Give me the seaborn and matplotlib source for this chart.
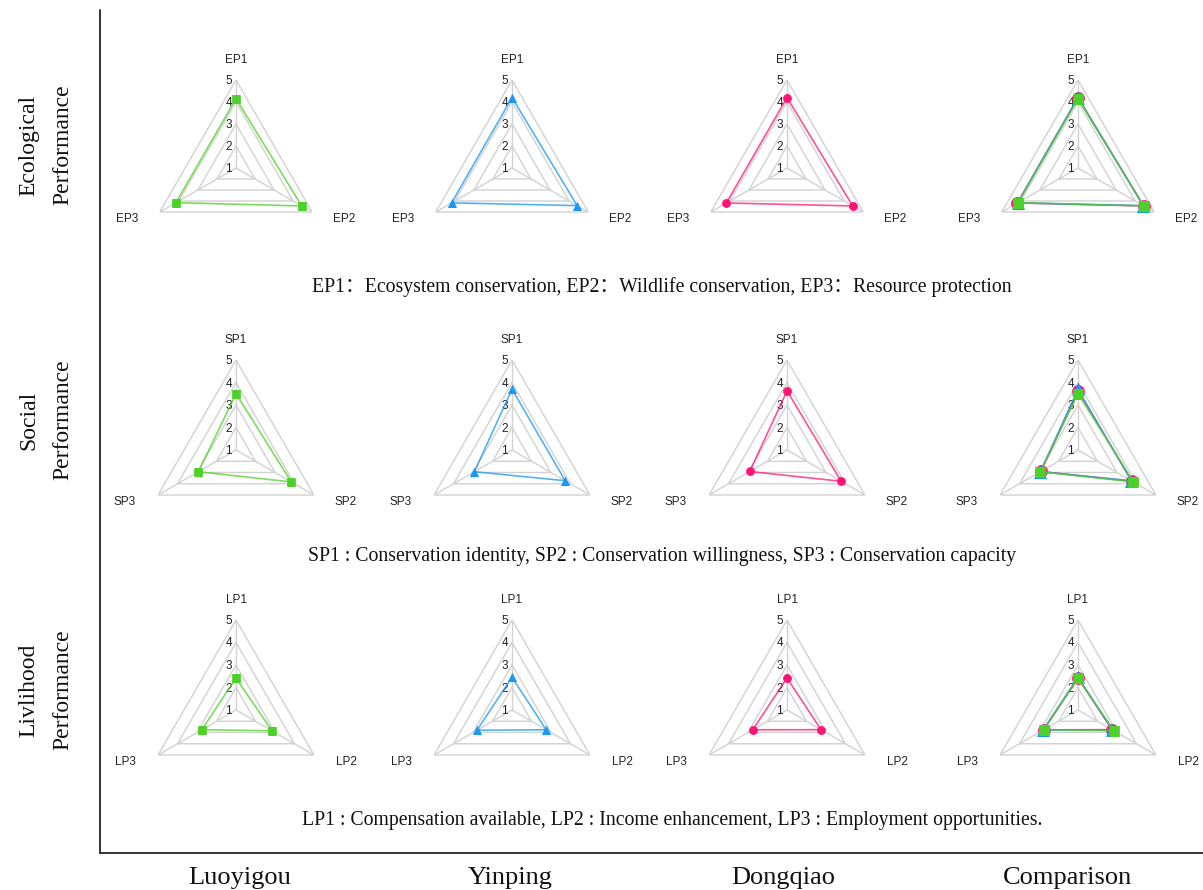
import numpy as np
import matplotlib.pyplot as plt
import seaborn as sns
from matplotlib.lines import Line2D

# --- data (scores 1-5) ---
sites = ["Luoyigou", "Yinping", "Dongqiao"]
columns = ["Luoyigou", "Yinping", "Dongqiao", "Comparison"]

eco_axes = ["EP1", "EP2", "EP3"]
soc_axes = ["SP1", "SP2", "SP3"]
liv_axes = ["LP1", "LP2", "LP3"]

eco_luo = [4.15, 4.45, 4.15]
eco_yin = [4.2, 4.42, 4.17]
eco_dong = [4.2, 4.45, 4.18]

soc_luo = [3.5, 3.84, 2.93]
soc_yin = [3.7, 3.73, 2.93]
soc_dong = [3.63, 3.78, 2.91]

liv_luo = [2.42, 2.85, 2.75]
liv_yin = [2.45, 2.76, 2.8]
liv_dong = [2.42, 2.75, 2.76]

row_titles = ["Ecological\nPerformance", "Social\nPerformance", "Livlihood\nPerformance"]
captions = [
    "EP1：Ecosystem conservation, EP2：Wildlife conservation, EP3：Resource protection",
    "SP1 : Conservation identity, SP2 : Conservation willingness, SP3 : Conservation capacity",
    "LP1 : Compensation available, LP2 : Income enhancement, LP3 : Employment opportunities.",
]
ticks = [1, 2, 3, 4, 5]

rows = [
    (eco_axes, [eco_luo, eco_yin, eco_dong]),
    (soc_axes, [soc_luo, soc_yin, soc_dong]),
    (liv_axes, [liv_luo, liv_yin, liv_dong]),
]

colors = ["#4dd02a", "#1a98f2", "#ff1475"]
markers = ["s", "^", "o"]

sns.set_theme(style="white")
plt.rcParams["font.family"] = ["Liberation Sans", "DejaVu Sans"]
serif = ["Liberation Serif", "Noto Sans CJK SC"]

W, H = 1203, 890
fig = plt.figure(figsize=(W / 100, H / 100), dpi=100)

# layout in pixels
col_x = [236, 512, 787, 1078]
row_y = [168, 450, 710]
row_r = [88, 90, 90]
caption_x = [662, 662, 672]
caption_y = [287, 557, 820]
title_y = [145, 420, 690]
name_x = [240, 510, 783, 1068]


def radar(ax, labels, series):
    theta = np.linspace(0, 2 * np.pi, len(labels), endpoint=False)
    loop = np.append(theta, theta[0])
    ax.set_theta_zero_location("N")
    ax.set_theta_direction(-1)
    ax.set_ylim(1, 5)
    ax.grid(False)
    ax.spines["polar"].set_visible(False)
    ax.set_xticks([])
    ax.set_yticks([])
    ax.set_facecolor("none")
    # triangle rings and spokes
    for t in ticks[1:]:
        ax.plot(loop, [t] * len(loop), color="#d2d2d2", lw=1.0, zorder=1)
    for th in theta:
        ax.plot([th, th], [1, 5], color="#d2d2d2", lw=1.0, zorder=1)
    for t in ticks:
        ax.annotate(str(t), xy=(0, t), xytext=(-4, -1), textcoords="offset pixels",
                    ha="right", va="center", fontsize=8.5, color="#222222",
                    annotation_clip=False)
    offsets = [(0, 20), (32, -7), (-33, -7)]
    for th, lab, off in zip(theta, labels, offsets):
        ax.annotate(lab, xy=(th, 5), xytext=off, textcoords="offset pixels",
                    ha="center", va="center", fontsize=8.5, color="#222222",
                    annotation_clip=False)
    for vals, c, m, ms, z in series:
        sns.lineplot(x=loop, y=np.append(vals, vals[0]), sort=False, ax=ax,
                     color=c, lw=1.2, alpha=0.75, zorder=z, estimator=None)
        sns.scatterplot(x=theta, y=vals, ax=ax, color=c, marker=m, s=ms,
                        edgecolor=c, linewidth=0.5, zorder=z + 0.5)


for i, (labels, vals_list) in enumerate(rows):
    R = row_r[i]
    for j in range(4):
        cx, cy = col_x[j], row_y[i]
        ax = fig.add_axes([(cx - R) / W, 1 - (cy + R) / H, 2 * R / W, 2 * R / H],
                          projection="polar")
        if j < 3:
            series = [(vals_list[j], colors[j], markers[j], 34, 3)]
        else:
            series = [
                (vals_list[2], colors[2], "o", 75, 3),
                (vals_list[1], colors[1], "^", 75, 4),
                (vals_list[0], colors[0], "s", 45, 5),
            ]
        radar(ax, labels, series)

    fig.text(caption_x[i] / W, 1 - caption_y[i] / H, captions[i], ha="center",
             va="center", fontsize=14.2, family=serif, color="#111111")
    fig.text(46 / W, 1 - title_y[i] / H, row_titles[i], ha="center", va="center",
             rotation=90, fontsize=17, family=serif, linespacing=1.85,
             multialignment="center", color="#111111")

for j, name in enumerate(columns):
    fig.text(name_x[j] / W, 1 - 878 / H, name, ha="center", va="center",
             fontsize=19, family=serif, color="#111111")

# frame lines
fig.add_artist(Line2D([100 / W, 100 / W], [1 - 10 / H, 1 - 853 / H],
                      color="#333333", lw=1.4, transform=fig.transFigure))
fig.add_artist(Line2D([100 / W, 1.0], [1 - 853 / H, 1 - 853 / H],
                      color="#333333", lw=1.4, transform=fig.transFigure))

fig.savefig("out.png", dpi=100, facecolor="white")
